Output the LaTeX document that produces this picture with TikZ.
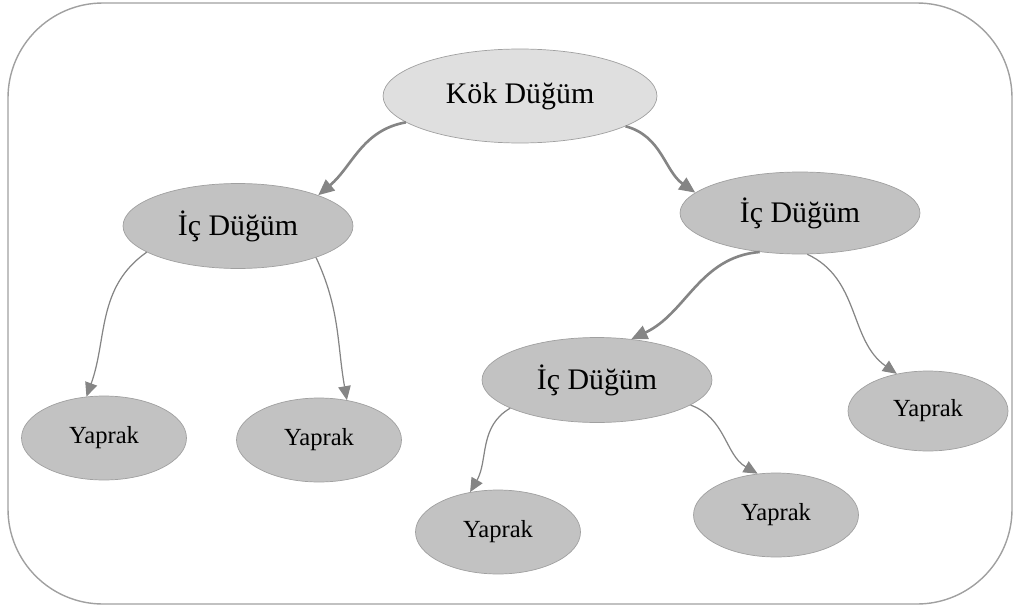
\documentclass[tikz,border=0pt]{standalone}
\usepackage{fontspec}
\setmainfont{Liberation Serif}
\usepackage{tikz}
\usetikzlibrary{shapes,arrows.meta}
\definecolor{kokgray}{HTML}{DFDFDF}
\definecolor{icgray}{HTML}{C2C2C2}
\definecolor{linegray}{HTML}{A0A0A0}
\definecolor{arrgray}{HTML}{858585}
\tikzstyle{cerceve}=[draw=linegray,line width=0.8pt,rounded corners=1.9cm]
\tikzstyle{kok}=[draw=linegray,ellipse,fill=kokgray,text=black,inner sep=0,
minimum width=5.48cm,minimum height=1.88cm,font=\fontsize{17}{20}\selectfont]
\tikzstyle{ic}=[draw=linegray,ellipse,fill=icgray,text=black,inner sep=0,
minimum width=4.6cm,minimum height=1.7cm,font=\fontsize{17}{20}\selectfont]
\tikzstyle{yaprak}=[draw=linegray,ellipse,fill=icgray,text=black,inner sep=0,
minimum width=3.3cm,minimum height=1.68cm,font=\fontsize{14}{17}\selectfont]
\tikzstyle{kalin}=[draw,arrgray,line width=1.5pt,-{Triangle[length=0.32cm,width=0.28cm]}]
\tikzstyle{ince}=[draw,arrgray,line width=0.7pt,-{Triangle[length=0.28cm,width=0.25cm]}]

\begin{document}
\begin{tikzpicture}[x=0.02cm,y=0.02cm]
	\useasboundingbox (0,0) rectangle (1016,-608);
	\draw[cerceve] (8,-3) rectangle (1012,-604);

	\node[kok] (kok) at (520,-96) {Kök Düğüm};

	\node[ic] (icL) at (238,-226) {İç Düğüm};
	\node[ic, minimum width=4.8cm, minimum height=1.64cm] (icR) at (800,-213) {İç Düğüm};
	\node[ic] (icM) at (597,-380) {İç Düğüm};

	\node[yaprak] (y1) at (104,-438) {Yaprak};
	\node[yaprak] (y2) at (319,-440) {Yaprak};
	\node[yaprak] (y3) at (498,-532) {Yaprak};
	\node[yaprak] (y4) at (776,-515) {Yaprak};
	\node[yaprak, minimum width=3.2cm, minimum height=1.6cm] (y5) at (928,-411) {Yaprak};

	\path (kok.193) edge[kalin,out=190,in=40] (icL.21);
	\path (kok.-16) edge[kalin,out=-15,in=145] (icR.169);
	\path (icR.224) edge[kalin,out=185,in=25] (icM.50);

	\path (icL.196) edge[ince,out=215,in=70] (y1.113);
	\path (icL.-22) edge[ince,out=-65,in=100] (y2.55);
	\path (icR.-80) edge[ince,out=-25,in=145] (y5.130);
	\path (icM.198) edge[ince,out=210,in=60] (y3.125);
	\path (icM.-15) edge[ince,out=-20,in=150] (y4.114);
\end{tikzpicture}
\end{document}
